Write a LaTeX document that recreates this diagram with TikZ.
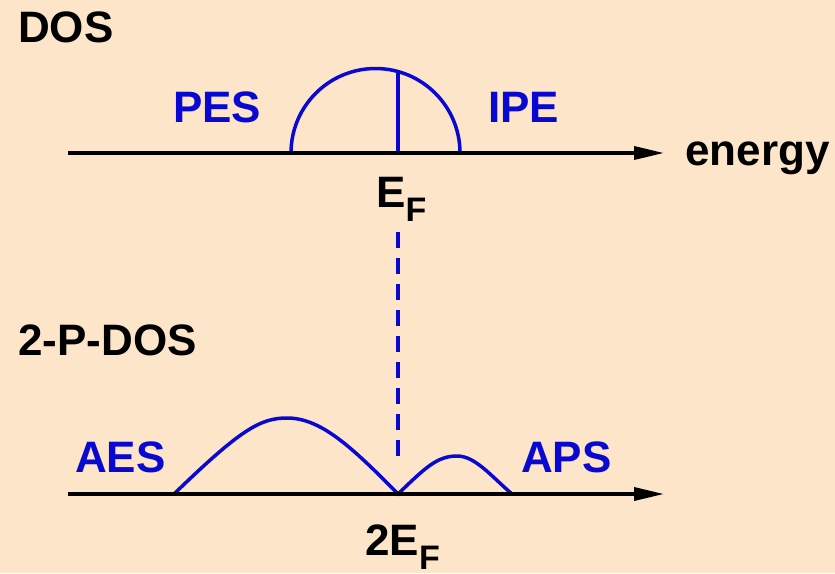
\documentclass[tikz,border=0pt]{standalone}
\usepackage{fontspec}
\setmainfont{Liberation Sans}
\usetikzlibrary{arrows.meta}
\definecolor{bg}{RGB}{253,229,201}
\definecolor{cblue}{RGB}{8,8,210}
\tikzset{
  lbl/.style={inner sep=0pt, anchor=base west, font=\fontsize{44}{44}\selectfont\bfseries},
  blbl/.style={lbl, text=cblue},
  axis/.style={line width=3.5pt, -{Triangle[length=30pt,width=13pt]}},
  curve/.style={cblue, line width=3.5pt},
}
\begin{document}
\begin{tikzpicture}[x=1pt,y=-1pt]
\fill[bg] (0,0) rectangle (835,573);
\useasboundingbox (0,0) rectangle (835,573);
% top axis
\coordinate (a1) at (68,153);
\coordinate (a2) at (664,153);
\coordinate (sl) at (291,153);
\coordinate (sr) at (460,153);
\coordinate (ef) at (398,153);
\coordinate (eftop) at (398,71.6);
\draw[curve] (sl) arc[start angle=180,end angle=360,radius=84.5];
\draw[curve] (ef) -- (eftop);
\draw[axis] (a1) -- (a2);
% bottom axis
\coordinate (b1) at (68,494);
\coordinate (b2) at (664,494);
\coordinate (c1) at (174,494);
\coordinate (c2) at (398,494);
\coordinate (c3) at (512,494);
\draw[curve] (c1) .. controls (240,430) and (260,418) .. (287,418)
  .. controls (320,418) and (350,445) .. (c2)
  .. controls (425,468) and (437,456) .. (457,456)
  .. controls (475,456) and (490,475) .. (c3);
\draw[axis] (b1) -- (b2);
% dashed
\coordinate (d1) at (398,232);
\coordinate (d2) at (398,457);
\draw[cblue, line width=3.5pt, dash pattern=on 16pt off 10pt] (d1) -- (d2);
% labels
\node[lbl] (dos) at (18,42) {DOS};
\node[lbl] (pdos) at (18,355) {2-P-DOS};
\node[lbl] (en) at (685,165) {energy};
\node[blbl] (pes) at (173,122) {PES};
\node[blbl] (ipe) at (488,122) {IPE};
\node[blbl] (aes) at (75,472) {AES};
\node[blbl] (aps) at (521,472) {APS};
\node[lbl] (efl) at (376,207) {E\raisebox{-14pt}{\fontsize{34}{34}\selectfont F}};
\node[lbl] (efl2) at (365,555) {2E\raisebox{-14pt}{\fontsize{34}{34}\selectfont F}};
\end{tikzpicture}
\end{document}
